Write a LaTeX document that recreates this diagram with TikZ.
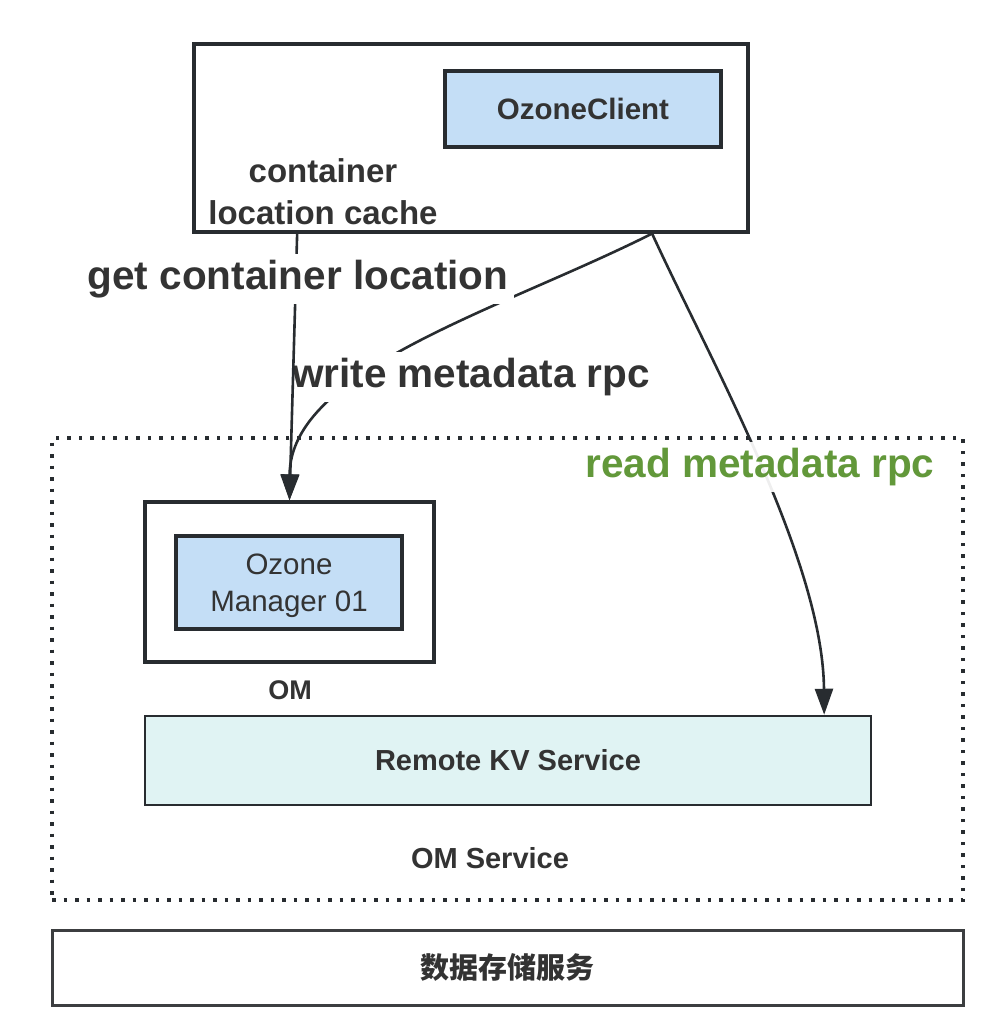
\documentclass[tikz,border=0pt]{standalone}
\usepackage{fontspec}
\setmainfont{Liberation Sans}
\newfontfamily\cjkfont{Noto Sans CJK SC}
\usetikzlibrary{arrows.meta, calc}

\definecolor{linec}{RGB}{40,44,48}
\definecolor{txt}{RGB}{51,51,51}
\definecolor{bluef}{RGB}{196,222,246}
\definecolor{kvf}{RGB}{224,243,243}
\definecolor{rpcgreen}{RGB}{98,152,58}
\definecolor{storec}{RGB}{60,62,64}

\begin{document}
\begin{tikzpicture}[x=1pt, y=-1pt,
  box/.style={draw=linec, line width=3.2pt, text=txt},
  bluebox/.style={box, fill=bluef},
  lbl/.style={fill=white, inner sep=6pt, text=txt, font=\bfseries\fontsize{40.5}{44}\selectfont},
  arr/.style={draw=linec, line width=2.6pt, -{Triangle[width=18pt,length=26pt]}}
]

\useasboundingbox (0,0) rectangle (1006,1034);

% Client
\node[box, minimum width=554pt, minimum height=188pt] (client) at (471,138) {};
\node[bluebox, minimum width=276pt, minimum height=76pt, font=\bfseries\fontsize{29.5}{32}\selectfont] (ozc) at (583,109) {OzoneClient};
\node[align=center, text=txt, font=\bfseries\fontsize{33}{42}\selectfont] (cache) at (323,192) {container\\location cache};

% OM Service
\node[draw=linec, line width=3.5pt, dash pattern=on 3.5pt off 8pt, minimum width=911pt, minimum height=462pt] (svc) at (507.5,669) {};
\node[box, minimum width=289pt, minimum height=160pt] (om) at (289.5,582) {};
\node[bluebox, align=center, minimum width=226pt, minimum height=93pt, text depth=0pt, font=\fontsize{29.5}{37}\selectfont] (mgr) at (289,582.5) {Ozone\\Manager 01};
\node[text=txt, font=\bfseries\fontsize{27}{30}\selectfont] (omlbl) at (290,690) {OM};
\node[box, line width=2.5pt, fill=kvf, minimum width=726pt, minimum height=89pt, font=\bfseries\fontsize{29}{32}\selectfont] (kv) at (508,760.5) {Remote KV Service};
\node[text=txt, font=\bfseries\fontsize{29}{32}\selectfont] (svclbl) at (490,858) {OM Service};

% Storage
\node[draw=storec, line width=3pt, minimum width=911pt, minimum height=75pt, text=txt, font=\cjkfont\bfseries\fontsize{29}{32}\selectfont] (store) at (507.5,967.5) {数据存储服务};

% Arrows
\coordinate (gout) at ($(client.south west)!0.188!(client.south east)$);
\coordinate (rout) at ($(client.south west)!0.825!(client.south east)$);
\coordinate (kvin) at ($(kv.north west)!0.934!(kv.north east)$);

\draw[arr] (rout) .. controls (500,310) and (290,370) .. (om.north);
\draw[arr] (rout) .. controls (710,360) and (823,560) .. (kvin);
\node[lbl] (wlbl) at (471,377) {write metadata rpc};
\node[lbl, text=rpcgreen, fill opacity=0.92, text opacity=1] (rlbl) at (760,467) {read metadata rpc};

\draw[arr] (gout) -- (om.north);
\node[lbl] (glbl) at (298,279) {get container location};

\end{tikzpicture}
\end{document}
